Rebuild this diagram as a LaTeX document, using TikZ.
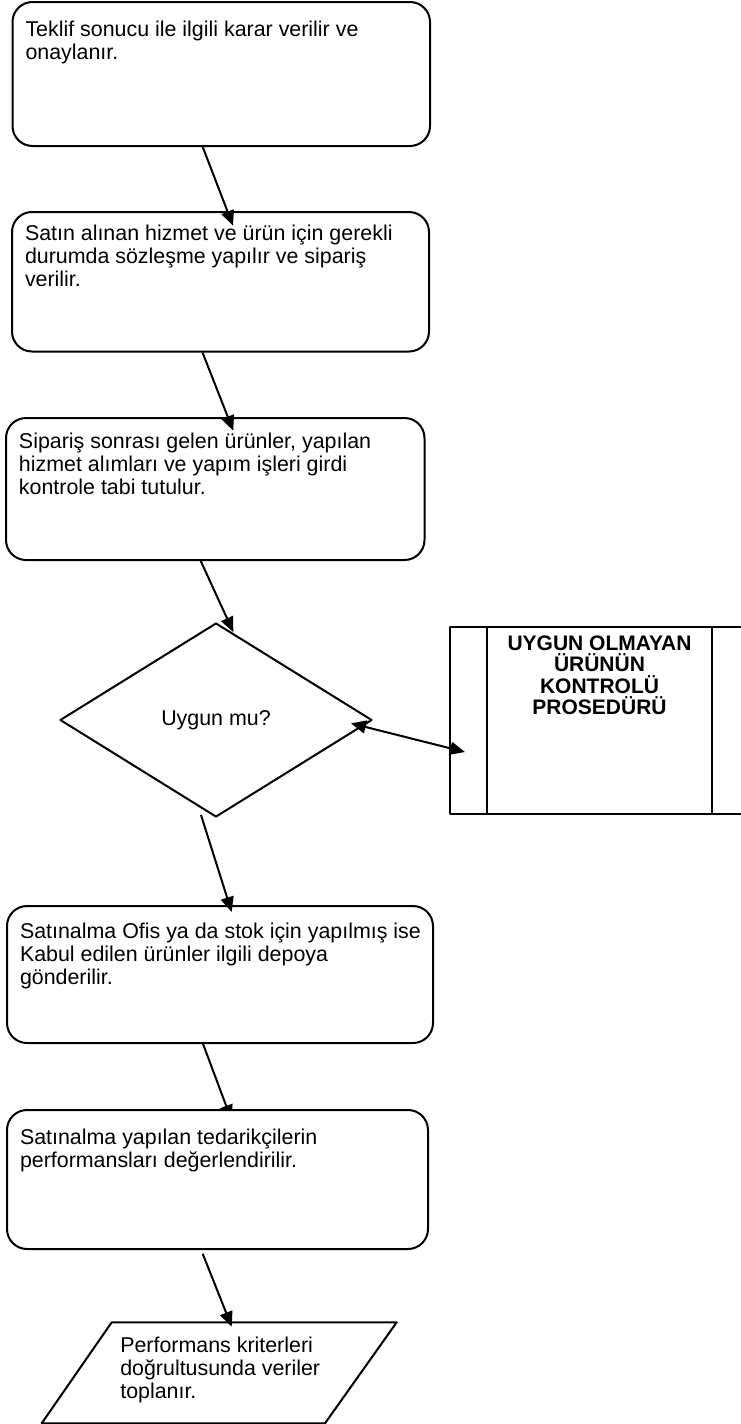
\documentclass[tikz,border=0pt]{standalone}
\usepackage{fontspec}
\setmainfont{Liberation Sans}
\usetikzlibrary{arrows.meta,shapes.geometric,backgrounds}
\begin{document}
\begin{tikzpicture}[x=1pt,y=-1pt,line width=2pt,line join=round,
	font=\fontsize{21.4}{23}\selectfont,
	>={Triangle[length=15pt,width=13pt]},
	kutu/.style={draw,rounded corners=20pt,fill=white,inner sep=0pt},
	yazi/.style={anchor=north west,inner sep=0pt,align=left}]
	\useasboundingbox (0,0) rectangle (740,1424);
	% Kutular
	\node[kutu,minimum width=417.5pt,minimum height=144pt] (b1) at (221.25,74) {};
	\node[kutu,minimum width=417pt,minimum height=139.5pt] (b2) at (220.5,281.75) {};
	\node[kutu,minimum width=418.5pt,minimum height=142pt] (b3) at (215.25,489) {};
	\node[kutu,minimum width=426pt,minimum height=137pt] (b4) at (220,974.5) {};
	\node[kutu,minimum width=421pt,minimum height=139pt] (b5) at (217.5,1179.5) {};
	\node[yazi] (b1y) at ([shift={(13,19)}]b1.north west) {Teklif sonucu ile ilgili karar verilir ve\\onaylanır.};
	\node[yazi] (b2y) at ([shift={(13,13)}]b2.north west) {Satın alınan hizmet ve ürün için gerekli\\durumda sözleşme yapılır ve sipariş\\verilir.};
	\node[yazi] (b3y) at ([shift={(13,15)}]b3.north west) {Sipariş sonrası gelen ürünler, yapılan\\hizmet alımları ve yapım işleri girdi\\kontrole tabi tutulur.};
	\node[yazi] (b4y) at ([shift={(13,17)}]b4.north west) {Satınalma Ofis ya da stok için yapılmış ise\\Kabul edilen ürünler ilgili depoya\\gönderilir.};
	\node[yazi] (b5y) at ([shift={(13,19)}]b5.north west) {Satınalma yapılan tedarikçilerin\\performansları değerlendirilir.};
	% Karar
	\node[diamond,draw,fill=white,minimum width=312pt,minimum height=194pt,inner sep=0pt] (d) at (216,720) {Uygun mu?};
	% Prosedur kutusu
	\node[draw,minimum width=299pt,minimum height=187pt,inner sep=0pt] (prs) at (599.5,720.5) {};
	\draw ([xshift=38pt]prs.north west) -- ([xshift=38pt]prs.south west);
	\draw ([xshift=-38pt]prs.north east) -- ([xshift=-38pt]prs.south east);
	\node[anchor=north,inner sep=0pt,align=center,font=\fontsize{21}{21.3}\selectfont\bfseries] (prsy) at (599.5,635) {UYGUN OLMAYAN\\ÜRÜNÜN\\KONTROLÜ\\PROSEDÜRÜ};
	% Veri
	\path (111.7,1322.3) coordinate (p1)
	(396.7,1322.3) coordinate (p2)
	(325,1423.3) coordinate (p3)
	(41.7,1423.3) coordinate (p4)
	(231.7,1326.7) coordinate (pu);
	\draw[fill=white] (p1)--(p2)--(p3)--(p4)--cycle;
	\node[yazi] (py) at (119.3,1336) {Performans kriterleri\\doğrultusunda veriler\\toplanır.};
	% Oklar
	\draw[->] ([xshift=-18.5pt]b1.south) -- ([shift={(12.5,14.7)}]b2.north);
	\draw[->] ([xshift=-18pt]b2.south) -- ([shift={(18,13.7)}]b3.north);
	\draw[->] ([xshift=-14.5pt]b3.south) -- ([shift={(17.3,10)}]d.north);
	\draw[->] ([shift={(-15,-3)}]d.south) -- ([shift={(11.7,7)}]b4.north);
	\begin{scope}[on background layer]
		\draw[->,line width=2pt] ([shift={(-19.3,-6.3)}]b4.south) -- ([shift={(14,11)}]b5.north);
	\end{scope}
	\draw[->] ([shift={(-14.8,3.7)}]b5.south) -- (pu);
	\draw[<->] ([shift={(-22,3.3)}]d.east) -- ([shift={(16,31.5)}]prs.west);
\end{tikzpicture}
\end{document}
